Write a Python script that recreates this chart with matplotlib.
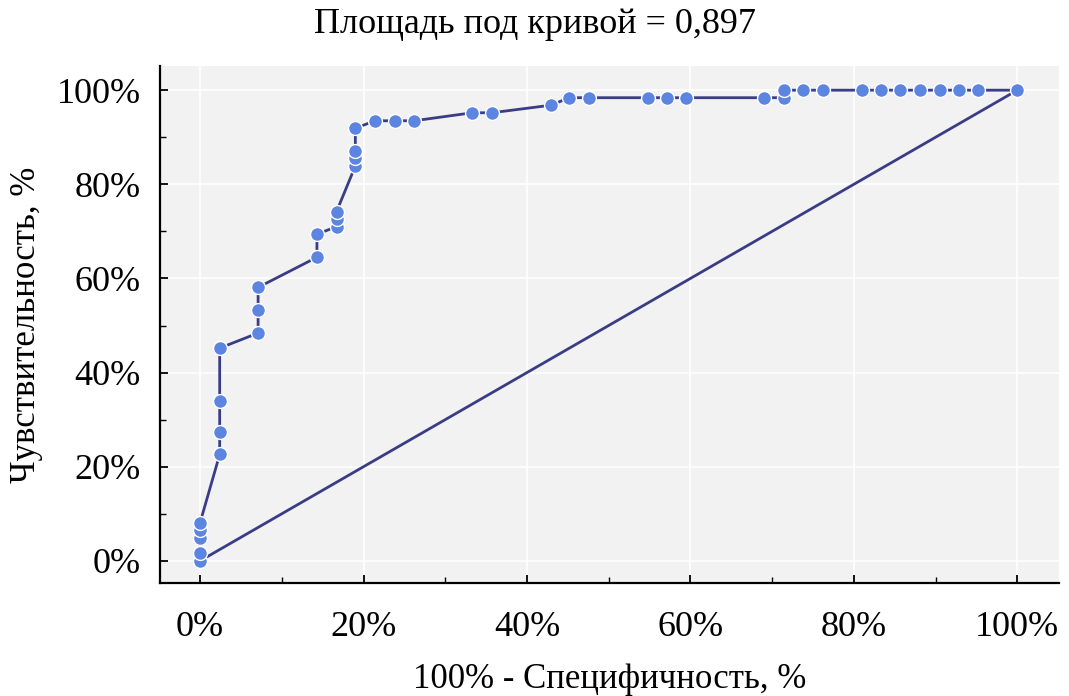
import matplotlib
matplotlib.use("Agg")
from matplotlib import pyplot as plt
from matplotlib.ticker import MultipleLocator, FuncFormatter

# ROC points, %
fpr = [0, 0, 0, 0, 0, 2.4, 2.4, 2.4, 2.4, 7.1, 7.1, 7.1, 14.3, 14.3,
       16.7, 16.7, 16.7, 19.0, 19.0, 19.0, 19.0, 21.4, 23.8, 26.2,
       33.3, 35.7, 42.9, 45.2, 47.6, 54.8, 57.1, 59.5, 69.0, 71.4,
       71.4, 73.8, 76.2, 81.0, 83.3, 85.7, 88.1, 90.5, 92.9, 95.2, 100]
tpr = [0, 1.6, 4.8, 6.5, 8.1, 22.6, 27.4, 33.9, 45.2, 48.4, 53.2, 58.1,
       64.5, 69.4, 71.0, 72.6, 74.2, 83.9, 85.5, 87.1, 91.9, 93.5, 93.5,
       93.5, 95.2, 95.2, 96.8, 98.4, 98.4, 98.4, 98.4, 98.4, 98.4, 98.4,
       100, 100, 100, 100, 100, 100, 100, 100, 100, 100, 100]
diag = [0, 100]

title = "Площадь под кривой = 0,897"
xlabel = "100% - Специфичность, %"
ylabel = "Чувствительность, %"

plt.rcParams['font.family'] = ['Liberation Serif', 'DejaVu Serif']

fig = plt.figure(figsize=(10.69, 6.96), dpi=100)
ax = fig.add_axes([0.1497, 0.1624, 0.8409, 0.7432])
ax.set_facecolor('#f2f2f2')

line_col = '#3a3d86'
ax.plot(diag, diag, color=line_col, lw=2.0, zorder=2)
ax.plot(fpr, tpr, color=line_col, lw=2.0, marker='o', ms=10,
        mfc='#5b85e0', mec='white', mew=1.0, zorder=3)

ax.set_xlim(-4.9, 105.1)
ax.set_ylim(-4.7, 105.2)

ax.xaxis.set_major_locator(MultipleLocator(20))
ax.xaxis.set_minor_locator(MultipleLocator(10))
ax.yaxis.set_major_locator(MultipleLocator(20))
ax.yaxis.set_minor_locator(MultipleLocator(10))
pct = FuncFormatter(lambda v, p: "%d%%" % round(v))
ax.xaxis.set_major_formatter(pct)
ax.yaxis.set_major_formatter(pct)

ax.grid(True, which='major', color='white', lw=1.2, zorder=0)
ax.set_axisbelow(True)

for s in ['top', 'right']:
    ax.spines[s].set_visible(False)
for s in ['left', 'bottom']:
    ax.spines[s].set_linewidth(1.6)
    ax.spines[s].set_color('black')

ax.tick_params(which='major', direction='in', length=6, width=1.3,
               labelsize=26, pad=14)
ax.tick_params(axis='x', which='major', pad=20)
ax.tick_params(which='minor', direction='in', length=4, width=1.0)

ax.set_xlabel(xlabel, fontsize=25, labelpad=14)
ax.set_ylabel(ylabel, fontsize=25, labelpad=10)
fig.text(0.5, 0.965, title, fontsize=26, ha='center', va='center')

fig.savefig("out.png", dpi=100)
